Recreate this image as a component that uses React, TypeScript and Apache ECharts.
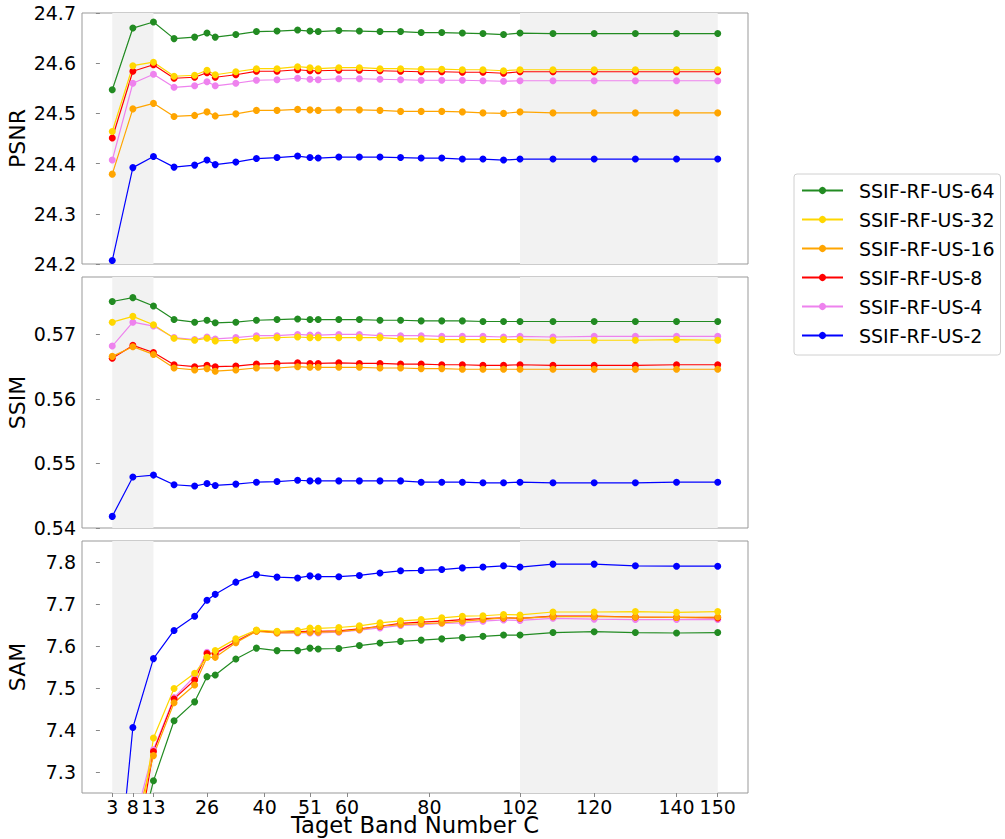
import React, { useEffect, useRef } from "react";
import * as echarts from "echarts";

const xs = [3, 8, 13, 18, 23, 26, 28, 33, 38, 43, 48, 51, 53, 58, 63, 68, 73, 78, 83, 88, 93, 98, 102, 110, 120, 130, 140, 150];
const xTicks = [3, 8, 13, 26, 40, 51, 60, 80, 102, 120, 140, 150];
const shadedRanges = [[3, 13], [102, 150]];

const seriesNames = ["SSIF-RF-US-64", "SSIF-RF-US-32", "SSIF-RF-US-16", "SSIF-RF-US-8", "SSIF-RF-US-4", "SSIF-RF-US-2"];
const seriesColors = ["#228B22", "#FFD700", "#FFA500", "#FF0000", "#EE82EE", "#0000FF"];

const psnr64 = [24.547, 24.670, 24.682, 24.649, 24.652, 24.660, 24.652, 24.657, 24.663, 24.664, 24.666, 24.664, 24.663, 24.665, 24.664, 24.663, 24.663, 24.661, 24.661, 24.660, 24.659, 24.657, 24.660, 24.659, 24.659, 24.659, 24.659, 24.659];
const psnr32 = [24.464, 24.595, 24.602, 24.574, 24.576, 24.586, 24.577, 24.583, 24.589, 24.589, 24.593, 24.591, 24.589, 24.591, 24.591, 24.589, 24.589, 24.588, 24.588, 24.587, 24.587, 24.585, 24.587, 24.587, 24.587, 24.587, 24.587, 24.587];
const psnr16 = [24.379, 24.509, 24.520, 24.494, 24.496, 24.503, 24.495, 24.499, 24.506, 24.506, 24.508, 24.507, 24.506, 24.507, 24.507, 24.506, 24.504, 24.504, 24.504, 24.503, 24.501, 24.500, 24.503, 24.501, 24.501, 24.501, 24.501, 24.501];
const psnr8 = [24.451, 24.584, 24.597, 24.570, 24.572, 24.581, 24.572, 24.577, 24.584, 24.584, 24.587, 24.585, 24.585, 24.586, 24.586, 24.585, 24.584, 24.583, 24.583, 24.582, 24.582, 24.580, 24.583, 24.583, 24.583, 24.583, 24.583, 24.583];
const psnr4 = [24.407, 24.560, 24.578, 24.552, 24.555, 24.563, 24.555, 24.560, 24.566, 24.567, 24.570, 24.568, 24.567, 24.569, 24.569, 24.568, 24.567, 24.566, 24.566, 24.566, 24.565, 24.564, 24.565, 24.565, 24.565, 24.565, 24.565, 24.565];
const psnr2 = [24.207, 24.392, 24.414, 24.393, 24.397, 24.407, 24.398, 24.403, 24.410, 24.412, 24.415, 24.412, 24.411, 24.413, 24.413, 24.413, 24.412, 24.411, 24.411, 24.409, 24.409, 24.407, 24.409, 24.409, 24.409, 24.409, 24.409, 24.409];

const ssim64 = [0.5751, 0.5757, 0.5744, 0.5723, 0.5719, 0.5722, 0.5718, 0.5719, 0.5722, 0.5723, 0.5724, 0.5723, 0.5723, 0.5723, 0.5723, 0.5722, 0.5722, 0.5721, 0.5721, 0.5721, 0.5720, 0.5720, 0.5720, 0.5720, 0.5720, 0.5720, 0.5720, 0.5720];
const ssim32 = [0.5719, 0.5728, 0.5715, 0.5694, 0.5691, 0.5694, 0.5690, 0.5691, 0.5694, 0.5695, 0.5696, 0.5695, 0.5695, 0.5695, 0.5695, 0.5695, 0.5693, 0.5693, 0.5692, 0.5692, 0.5692, 0.5692, 0.5692, 0.5691, 0.5691, 0.5691, 0.5692, 0.5691];
const ssim16 = [0.5666, 0.5681, 0.5669, 0.5648, 0.5645, 0.5647, 0.5643, 0.5645, 0.5648, 0.5648, 0.5650, 0.5649, 0.5649, 0.5649, 0.5649, 0.5648, 0.5648, 0.5647, 0.5647, 0.5646, 0.5646, 0.5646, 0.5646, 0.5646, 0.5646, 0.5646, 0.5646, 0.5646];
const ssim8 = [0.5663, 0.5683, 0.5672, 0.5653, 0.5650, 0.5652, 0.5650, 0.5651, 0.5654, 0.5655, 0.5656, 0.5655, 0.5655, 0.5656, 0.5655, 0.5655, 0.5654, 0.5654, 0.5653, 0.5653, 0.5652, 0.5652, 0.5653, 0.5652, 0.5652, 0.5652, 0.5653, 0.5653];
const ssim4 = [0.5682, 0.5719, 0.5713, 0.5695, 0.5692, 0.5696, 0.5693, 0.5695, 0.5698, 0.5698, 0.5700, 0.5699, 0.5699, 0.5700, 0.5700, 0.5698, 0.5698, 0.5698, 0.5697, 0.5697, 0.5697, 0.5696, 0.5697, 0.5696, 0.5697, 0.5697, 0.5697, 0.5697];
const ssim2 = [0.5418, 0.5479, 0.5482, 0.5467, 0.5465, 0.5469, 0.5466, 0.5468, 0.5471, 0.5472, 0.5474, 0.5473, 0.5473, 0.5473, 0.5473, 0.5473, 0.5473, 0.5471, 0.5471, 0.5471, 0.5470, 0.5470, 0.5471, 0.5470, 0.5470, 0.5470, 0.5471, 0.5471];

const sam64 = [6.75, 7.08, 7.279, 7.422, 7.467, 7.527, 7.531, 7.569, 7.595, 7.589, 7.589, 7.595, 7.593, 7.594, 7.601, 7.607, 7.611, 7.614, 7.617, 7.620, 7.623, 7.626, 7.626, 7.632, 7.634, 7.632, 7.631, 7.632];
const sam32 = [6.70, 7.055, 7.381, 7.499, 7.535, 7.573, 7.589, 7.617, 7.638, 7.635, 7.637, 7.643, 7.642, 7.644, 7.648, 7.655, 7.660, 7.663, 7.667, 7.671, 7.672, 7.675, 7.674, 7.681, 7.681, 7.682, 7.680, 7.682];
const sam16 = [6.75, 7.15, 7.339, 7.465, 7.507, 7.573, 7.573, 7.608, 7.635, 7.631, 7.632, 7.633, 7.633, 7.634, 7.639, 7.647, 7.651, 7.653, 7.655, 7.659, 7.663, 7.667, 7.666, 7.670, 7.670, 7.669, 7.668, 7.669];
const sam8 = [6.72, 7.07, 7.349, 7.474, 7.519, 7.582, 7.583, 7.610, 7.636, 7.633, 7.634, 7.635, 7.635, 7.636, 7.641, 7.647, 7.654, 7.657, 7.659, 7.663, 7.665, 7.667, 7.666, 7.671, 7.671, 7.669, 7.668, 7.667];
const sam4 = [6.73, 7.165, 7.353, 7.477, 7.528, 7.585, 7.580, 7.612, 7.637, 7.631, 7.631, 7.631, 7.631, 7.633, 7.638, 7.643, 7.649, 7.651, 7.654, 7.655, 7.659, 7.662, 7.661, 7.666, 7.664, 7.663, 7.663, 7.663];
const sam2 = [6.90, 7.406, 7.570, 7.637, 7.671, 7.709, 7.723, 7.752, 7.770, 7.764, 7.762, 7.767, 7.765, 7.765, 7.768, 7.774, 7.779, 7.780, 7.782, 7.786, 7.788, 7.791, 7.788, 7.795, 7.795, 7.791, 7.790, 7.790];

const psnrTicks = [24.2, 24.3, 24.4, 24.5, 24.6, 24.7];
const ssimTicks = [0.54, 0.55, 0.56, 0.57];
const samTicks = [7.3, 7.4, 7.5, 7.6, 7.7, 7.8];

const panels = [
  { name: "PSNR", min: 24.2, max: 24.7, ticks: psnrTicks, digits: 1, data: [psnr64, psnr32, psnr16, psnr8, psnr4, psnr2] },
  { name: "SSIM", min: 0.54, max: 0.5789, ticks: ssimTicks, digits: 2, data: [ssim64, ssim32, ssim16, ssim8, ssim4, ssim2] },
  { name: "SAM", min: 7.25, max: 7.85, ticks: samTicks, digits: 1, data: [sam64, sam32, sam16, sam8, sam4, sam2] },
];

const FONT = "DejaVu Sans";

export default function App() {
  const ref = useRef<HTMLDivElement>(null);
  useEffect(() => {
    const chart = echarts.init(ref.current!, null, { renderer: "svg" });
    const grids = [
      { left: 82, top: 13, width: 666, height: 251 },
      { left: 82, top: 277, width: 666, height: 251 },
      { left: 82, top: 541, width: 666, height: 252 },
    ].map((g) => ({ ...g, show: true, borderColor: "#999", borderWidth: 1, backgroundColor: "transparent", outerBoundsMode: "none" }));

    const xAxes = panels.map((_, i) => {
      const bottom = i === 2;
      return {
        type: "value",
        gridIndex: i,
        min: -4.35,
        max: 157.35,
        axisLine: { show: false },
        splitLine: { show: false },
        axisTick: { show: bottom, customValues: xTicks, length: 4, lineStyle: { color: "#888" } },
        axisLabel: {
          show: bottom,
          customValues: xTicks,
          color: "#000",
          fontFamily: FONT,
          fontSize: 19,
          lineHeight: 17,
          margin: 5,
          formatter: (v: number) => String(v),
        },
        name: bottom ? "Taget Band Number C" : "",
        nameLocation: "middle",
        nameGap: 21,
        nameMoveOverlap: false,
        nameTextStyle: { color: "#000", fontFamily: FONT, fontSize: 22.7, lineHeight: 21 },
      };
    });

    const yAxes = panels.map((p, i) => ({
      type: "value",
      gridIndex: i,
      min: p.min,
      max: p.max,
      axisLine: { show: false },
      splitLine: { show: false },
      axisTick: { show: true, customValues: p.ticks, length: 4, lineStyle: { color: "#888" } },
      axisLabel: {
        customValues: p.ticks,
        color: "#000",
        fontFamily: FONT,
        fontSize: 19,
        margin: 6,
        formatter: (v: number) => v.toFixed(p.digits),
      },
      name: p.name,
      nameLocation: "middle",
      nameRotate: 90,
      nameGap: 54,
      nameMoveOverlap: false,
      nameTextStyle: { color: "#000", fontFamily: FONT, fontSize: 22 },
    }));

    const series: any[] = [];
    panels.forEach((p, gi) => {
      series.push({
        type: "line",
        name: "shade" + gi,
        xAxisIndex: gi,
        yAxisIndex: gi,
        data: [],
        z: 1,
        silent: true,
        markArea: {
          silent: true,
          itemStyle: { color: "#f2f2f2" },
          data: shadedRanges.map((r) => [{ xAxis: r[0] }, { xAxis: r[1] }]),
        },
      });
      for (let k = seriesNames.length - 1; k >= 0; k--) {
        series.push({
          type: "line",
          name: seriesNames[k],
          xAxisIndex: gi,
          yAxisIndex: gi,
          z: 2,
          clip: true,
          data: xs.map((x, j) => [x, p.data[k][j]]),
          symbol: "circle",
          symbolSize: 7,
          showSymbol: true,
          lineStyle: { color: seriesColors[k], width: 1.2 },
          itemStyle: { color: seriesColors[k] },
        });
      }
    });

    chart.setOption({
      animation: false,
      grid: grids,
      xAxis: xAxes,
      yAxis: yAxes,
      legend: {
        data: seriesNames,
        orient: "vertical",
        left: 794,
        top: 174,
        padding: [7, 6, 10, 7],
        itemWidth: 41,
        itemHeight: 9,
        itemGap: 10,
        borderColor: "#d0d0d0",
        borderWidth: 1,
        borderRadius: 3,
        textStyle: { color: "#000", fontFamily: FONT, fontSize: 19, lineHeight: 19, padding: [0, 0, 0, 11] },
      },
      series,
    });
    return () => chart.dispose();
  }, []);
  return <div ref={ref} style={{ position: "absolute", left: 0, top: 0, width: 1005, height: 839 }} />;
}
